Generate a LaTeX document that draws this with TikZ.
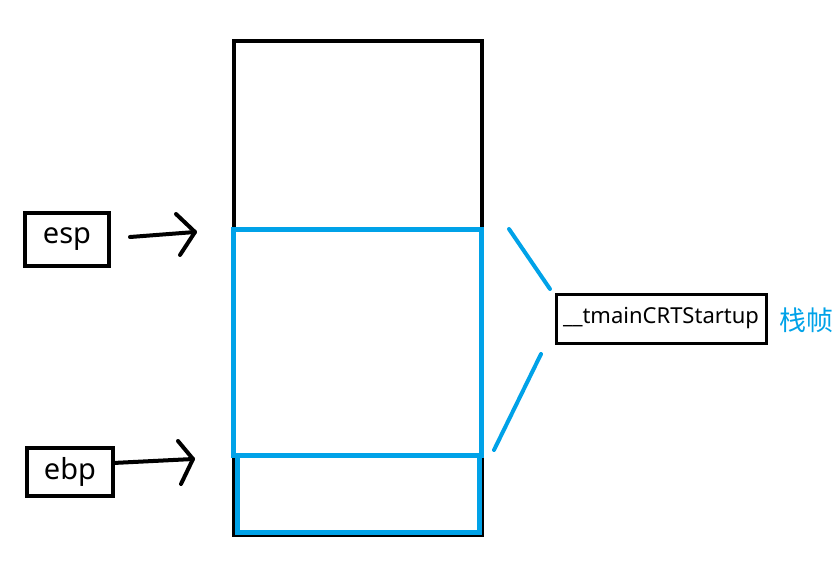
\documentclass[tikz,border=0pt]{standalone}
\usepackage{fontspec}
\setmainfont{Noto Sans}
\newfontfamily\cjk{Noto Sans CJK SC}
\definecolor{frameblue}{RGB}{0,162,232}
\begin{document}
\begin{tikzpicture}[x=1pt,y=-1pt,
  blk/.style={draw=black,line width=4pt},
  blu/.style={draw=frameblue,line width=5pt},
  regbox/.style={draw=black,line width=4pt,inner sep=0pt,font=\fontsize{29}{33}\selectfont},
  arr/.style={draw=black,line width=4pt,line cap=round,line join=round},
  conn/.style={draw=frameblue,line width=4pt,line cap=round}]
\useasboundingbox (0,0) rectangle (834,560);
% stack
\node[blk,rectangle,minimum width=248pt,minimum height=494pt] (stack) at (357.5,288) {};
\node[blu,rectangle,minimum width=248pt,minimum height=226pt] (frame) at (357.5,342) {};
\node[blu,rectangle,minimum width=242pt,minimum height=77pt] (bottom) at (358.5,493.5) {};
% registers
\node[regbox,minimum width=84pt,minimum height=53pt] (esp) at (67,239.5) {esp};
\node[regbox,minimum width=86pt,minimum height=48pt] (ebp) at (70,472) {ebp};
% esp arrow
\coordinate (espS) at (130,237);
\coordinate (espT) at (195,232);
\coordinate (espU) at (176,214);
\coordinate (espD) at (180,255);
\draw[arr] (espS) -- (espT);
\draw[arr] (espU) -- (espT) -- (espD);
% ebp arrow
\coordinate (ebpS) at (113,463);
\coordinate (ebpT) at (193,459);
\coordinate (ebpU) at (178,441);
\coordinate (ebpD) at (181,484);
\draw[arr] (ebpS) -- (ebpT);
\draw[arr] (ebpU) -- (ebpT) -- (ebpD);
% label
\node[draw=black,line width=3pt,inner sep=0pt,minimum width=210pt,minimum height=49pt,
  font=\fontsize{22}{26}\selectfont] (fn) at (661,318.5) {\_\_tmainCRTStartup};
\node[text=frameblue,font=\cjk\fontsize{27}{32}\selectfont,anchor=west,inner sep=0pt] (lbl) at (779,320) {栈帧};
% connectors
\coordinate (c1a) at (509,229);
\coordinate (c1b) at (550,289);
\coordinate (c2a) at (541,354);
\coordinate (c2b) at (494,450);
\draw[conn] (c1a) -- (c1b);
\draw[conn] (c2a) -- (c2b);
\end{tikzpicture}
\end{document}
